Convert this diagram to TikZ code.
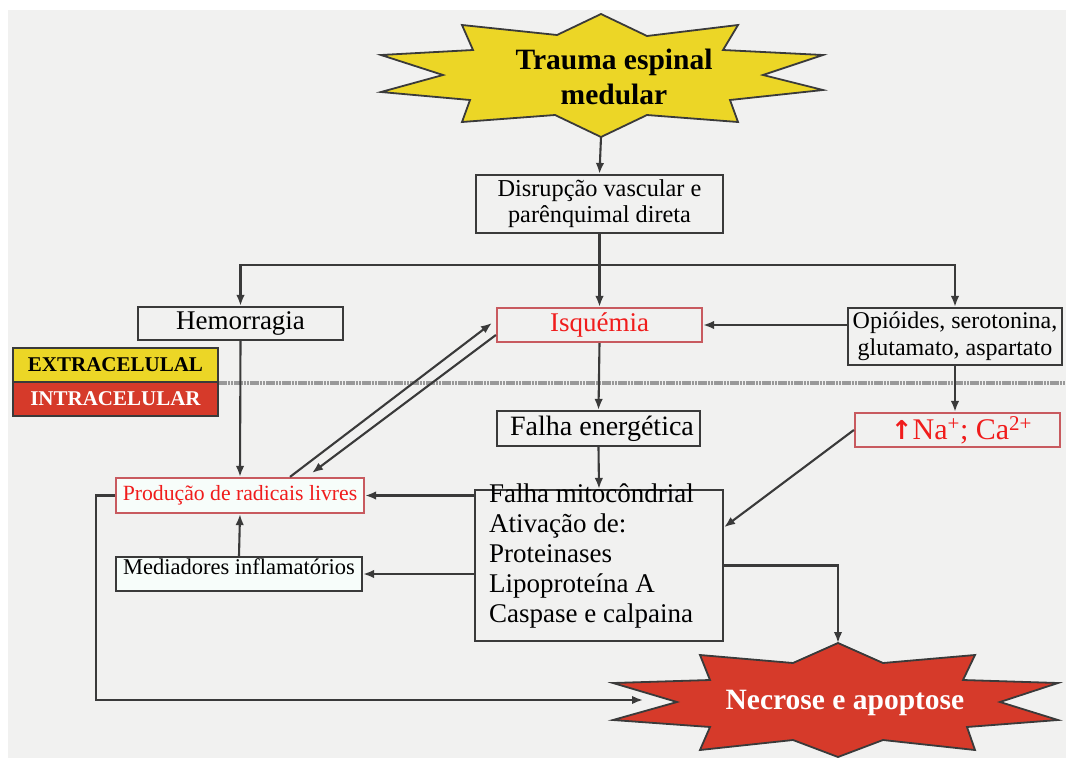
\documentclass[tikz,border=0pt]{standalone}
\usepackage{fontspec}
\setmainfont{Liberation Serif}
\newfontfamily\arrowfont{DejaVu Sans}
\usetikzlibrary{positioning,calc}
\usetikzlibrary{arrows.meta}
\definecolor{PageGray}{RGB}{241,241,240}
\definecolor{LineGray}{RGB}{58,58,58}
\definecolor{StarYellow}{RGB}{236,214,38}
\definecolor{StarRed}{RGB}{214,58,42}
\definecolor{BoxRed}{RGB}{200,90,95}
\definecolor{TextRed}{RGB}{240,28,28}
\definecolor{MintWhite}{RGB}{247,253,250}
\tikzset{
	box/.style={draw=LineGray,line width=2.2pt,fill=PageGray,inner sep=0pt,align=center},
	redbox/.style={box,draw=BoxRed,text=TextRed},
	tag/.style={draw=LineGray,line width=1.6pt,inner sep=0pt,minimum width=205pt,minimum height=34pt,
		font=\bfseries\fontsize{21}{24}\selectfont},
	arr/.style={draw=LineGray,line width=2.1pt,-{Latex[length=11pt,width=8.5pt]}},
	burst/.style={draw=LineGray,line width=1.8pt,line join=miter},
	sepline/.style={draw=black!40,line width=4pt,dash pattern=on 2.5pt off 0.7pt},
}

\begin{document}
\begin{tikzpicture}[x=1pt,y=-1pt]
	\useasboundingbox (0,0) rectangle (1066,758);
	\fill[PageGray] (8,10) rectangle (1066,758);
	% bursts
	\draw[burst,fill=StarYellow] (601,14) -- (647,36) -- (738,25) -- (723,50) -- (823,55) -- (763,75)
		-- (823,90) -- (730,100) -- (738,122) -- (647,115) -- (601,137) -- (555,115) -- (462,122)
		-- (470,100) -- (381,92) -- (443,75) -- (381,55) -- (473,50) -- (462,25) -- (557,35) -- cycle;
	\draw[burst,fill=StarRed] (838,643) -- (883,663) -- (975,655) -- (963,680) -- (1058,683) -- (1000,702)
		-- (1058,720) -- (967,727) -- (975,750) -- (883,740) -- (838,757) -- (793,740) -- (700,750)
		-- (710,727) -- (613,720) -- (677,702) -- (613,683) -- (710,680) -- (700,655) -- (793,663) -- cycle;
	\coordinate (traumab) at (601,137);
	\coordinate (necrt) at (838,643);
	\coordinate (necrl) at (643,700);
	\node[font=\bfseries\fontsize{29.5}{35}\selectfont,align=center] (trauma) at (614,77) {Trauma espinal\\medular};
	\node[font=\bfseries\fontsize{29.5}{35}\selectfont,text=white] (necr) at (845,703) {Necrose e apoptose};
	% separator
	\draw[sepline] (218,383) -- (1066,383);
	\node[tag,fill=StarYellow] (extra) at (115.5,365) {EXTRACELULAL};
	\node[tag,fill=StarRed,text=white] (intra) at (115.5,399) {INTRACELULAR};
	% boxes
	\node[box,minimum width=247pt,minimum height=58pt,font=\fontsize{24.3}{26}\selectfont] (disr) at (599.5,204)
		{Disrupção vascular e\\parênquimal direta};
	\node[box,minimum width=205pt,minimum height=33pt,font=\fontsize{27}{30}\selectfont] (hemo) at (240.5,323.5) {Hemorragia};
	\node[redbox,minimum width=205pt,minimum height=34pt,font=\fontsize{27}{30}\selectfont] (isq) at (599.5,325) {Isquémia};
	\node[box,minimum width=214pt,minimum height=57pt,font=\fontsize{24}{27}\selectfont] (opi) at (955,336.5)
		{Opióides, serotonina,\\glutamato, aspartato};
	\node[box,minimum width=203pt,minimum height=35pt,font=\fontsize{28}{30}\selectfont] (fene) at (598.5,428.5) {\hspace{7pt}Falha energética};
	\node[redbox,minimum width=205pt,minimum height=34pt,font=\fontsize{30}{32}\selectfont] (naca) at (957.5,430)
		{\hspace{8pt}{\arrowfont\bfseries\fontsize{26}{28}\selectfont ↑}Na\textsuperscript{+}; Ca\textsuperscript{2+}};
	\node[box,minimum width=248pt,minimum height=151pt] (mito) at (599,565.5) {};
	\node[anchor=north west,inner sep=0pt,align=left,font=\fontsize{27}{30}\selectfont] (mitotxt) at (489,484)
		{Falha mitocôndrial\\Ativação de:\\Proteinases\\Lipoproteína A\\Caspase e calpaina};
	\node[redbox,fill=MintWhite,minimum width=248pt,minimum height=35pt,font=\fontsize{21.7}{24}\selectfont] (prod) at (240,495.5)
		{Produção de radicais livres};
	\node[box,fill=MintWhite,minimum width=246pt,inner ysep=1pt,text height=16pt,text depth=16pt,
		font=\fontsize{22.5}{25}\selectfont] (medi) at (239,574) {Mediadores inflamatórios};
	% connectors
	\coordinate (split) at (599.5,265);
	\draw[arr] (traumab) -- (disr.north);
	\draw[arr] (disr.south) -- (isq.north);
	\draw[arr] (split) -| (hemo.north);
	\draw[arr] (split) -| (opi.north);
	\draw[arr] (opi.west |- isq) -- (isq.east);
	\draw[arr] (isq.south) -- (fene.north);
	\draw[arr] (opi.south) -- (opi.south |- naca.north);
	\draw[arr] (fene.south) -- (mito.north);
	\draw[arr] (hemo.south) -- (prod.north);
	\draw[arr] (naca.west) -- ($(mito.north east)!0.25!(mito.south east)$);
	\draw[arr] (mito.west |- prod) -- (prod.east);
	\draw[arr] (mito.west |- medi) -- (medi.east);
	\draw[arr] (medi.north) -- (prod.south);
	\draw[arr] ($(prod.north)+(50,0)$) -- ($(isq.west)+(-4,-2)$);
	\draw[arr] ($(isq.west)+(0,10)$) -- ($(prod.north)+(72,-4)$);
	\draw[arr] (mito.east) -| (necrt);
	\draw[arr] (prod.west) -- ++(-19,0) |- (necrl);
\end{tikzpicture}
\end{document}
